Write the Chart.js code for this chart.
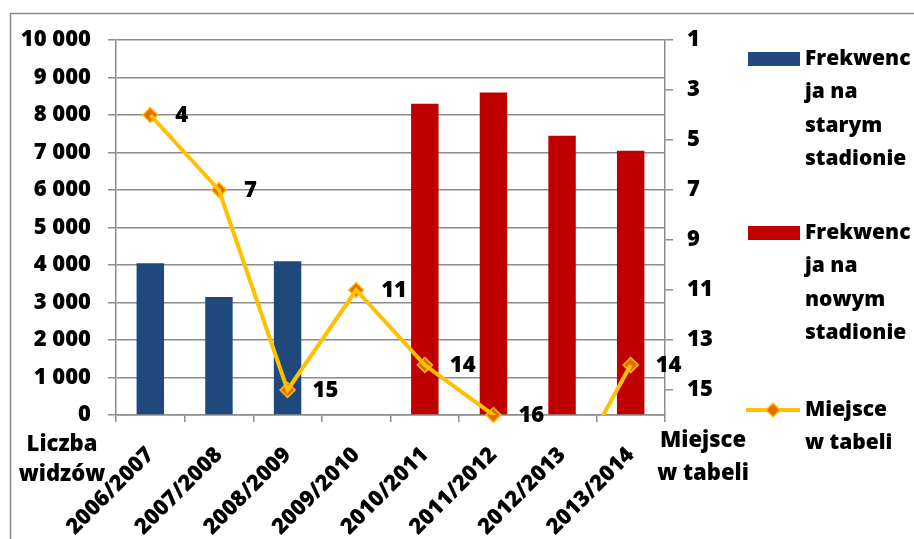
<!DOCTYPE html>
<html>
<head>
<meta charset="utf-8">
<script src="https://cdn.jsdelivr.net/npm/chart.js@4/dist/chart.umd.min.js"></script>
<style>
  html, body { margin: 0; padding: 0; background: #ffffff; }
  #wrap { position: relative; width: 914px; height: 539px; }
</style>
</head>
<body>
<div id="wrap"><canvas id="c" width="914" height="539"></canvas></div>
<script>
// Seasons
const seasons = ['2006/2007', '2007/2008', '2008/2009', '2009/2010',
                 '2010/2011', '2011/2012', '2012/2013', '2013/2014'];
// Average attendance (old stadium / new stadium)
const attendanceOld = [4050, 3150, 4100, null, null, null, null, null];
const attendanceNew = [null, null, null, null, 8300, 8600, 7450, 7050];
// League position
const leaguePlace = [4, 7, 15, 11, 14, 16, 19, 14];
// Right axis ticks
const placeTicks = [1, 3, 5, 7, 9, 11, 13, 15];

const seriesNames = ['Frekwencja na starym stadionie', 'Frekwencja na nowym stadionie', 'Miejsce w tabeli'];
const legendLines = [['Frekwenc', 'ja na', 'starym', 'stadionie'],
                     ['Frekwenc', 'ja na', 'nowym', 'stadionie'],
                     ['Miejsce', 'w tabeli']];
const leftTitle = ['Liczba', 'widzów'];
const rightTitle = ['Miejsce', 'w tabeli'];

const FONT = '"Open Sans", "Noto Sans", sans-serif';
const FSIZE = 22;
const FWEIGHT = '800';
const GRID = '#8c8c8c';
const BLUE = '#1f497d';
const RED = '#c00000';
const GOLD = '#ffc000';
const ORANGE = '#e36c09';

function fmtThousands(v) {
  return String(v).replace(/\B(?=(\d{3})+(?!\d))/g, ' ');
}

// Outer frame, axis titles, point value labels and the side legend
const decorations = {
  id: 'decorations',
  beforeDraw(chart) {
    const ctx = chart.ctx;
    ctx.save();
    ctx.strokeStyle = '#8a8a8a';
    ctx.lineWidth = 1.5;
    ctx.beginPath();
    ctx.moveTo(10.5, 539);
    ctx.lineTo(10.5, 13.5);
    ctx.lineTo(914, 13.5);
    ctx.stroke();
    ctx.restore();
  },
  afterDraw(chart) {
    const ctx = chart.ctx;
    const area = chart.chartArea;
    ctx.save();
    ctx.font = FWEIGHT + ' ' + FSIZE + 'px ' + FONT;
    ctx.fillStyle = '#000';
    ctx.textBaseline = 'middle';

    // axis titles
    ctx.textAlign = 'center';
    leftTitle.forEach((t, i) => ctx.fillText(t, 62, 445 + i * 30));
    rightTitle.forEach((t, i) => ctx.fillText(t, 703, 441 + i * 33));

    // value labels next to the position markers
    const meta = chart.getDatasetMeta(1);
    ctx.textAlign = 'left';
    meta.data.forEach((pt, i) => {
      const v = leaguePlace[i];
      if (v == null || pt.y > area.bottom + 1 || pt.y < area.top - 1) return;
      ctx.fillText(String(v), pt.x + 25, pt.y + 1);
    });

    // legend
    const lx = 748, tx = 805;
    const tops = [59, 233, 410];
    // bar swatches
    [[BLUE, 0], [RED, 1]].forEach(([col, k]) => {
      ctx.fillStyle = col;
      ctx.fillRect(lx, tops[k] - 7, 52, 14);
    });
    // line swatch
    ctx.strokeStyle = GOLD;
    ctx.lineWidth = 4;
    ctx.beginPath();
    ctx.moveTo(lx - 2, tops[2]);
    ctx.lineTo(lx + 52, tops[2]);
    ctx.stroke();
    ctx.fillStyle = ORANGE;
    ctx.strokeStyle = GOLD;
    ctx.lineWidth = 1.5;
    ctx.beginPath();
    const cx = lx + 25, cy = tops[2], r = 7;
    ctx.moveTo(cx, cy - r); ctx.lineTo(cx + r, cy); ctx.lineTo(cx, cy + r); ctx.lineTo(cx - r, cy); ctx.closePath();
    ctx.fill(); ctx.stroke();

    ctx.font = FWEIGHT + ' ' + (FSIZE - 1) + 'px ' + FONT;
    ctx.fillStyle = '#000';
    ctx.textAlign = 'left';
    legendLines.forEach((lines, k) => {
      lines.forEach((t, i) => ctx.fillText(t, tx, tops[k] + i * 33.5));
    });
    ctx.restore();
  }
};

const tickFont = { family: FONT, weight: FWEIGHT, size: FSIZE };

new Chart(document.getElementById('c'), {
  data: {
    labels: seasons,
    datasets: [
      {
        type: 'line', label: seriesNames[2], data: leaguePlace, yAxisID: 'y1',
        borderColor: GOLD, borderWidth: 4, pointRadius: 0, tension: 0,
        spanGaps: false, clip: 0, order: 0
      },
      {
        type: 'line', label: seriesNames[2] + ' ', data: leaguePlace, yAxisID: 'y1',
        showLine: false, clip: false, order: 0,
        pointStyle: 'rectRot',
        pointRadius: ctx => (ctx.raw != null && ctx.raw <= 16 ? 7.5 : 0),
        pointBackgroundColor: ORANGE, pointBorderColor: GOLD, pointBorderWidth: 1.5
      },
      {
        type: 'bar', label: seriesNames[0], data: attendanceOld, yAxisID: 'y',
        backgroundColor: BLUE, grouped: false, barPercentage: 0.4, categoryPercentage: 1, order: 1
      },
      {
        type: 'bar', label: seriesNames[1], data: attendanceNew, yAxisID: 'y',
        backgroundColor: RED, grouped: false, barPercentage: 0.4, categoryPercentage: 1, order: 1
      }
    ]
  },
  options: {
    responsive: false,
    animation: false,
    devicePixelRatio: 1,
    layout: { padding: { left: 0, right: 189, top: 40, bottom: 0 } },
    plugins: { legend: { display: false }, tooltip: { enabled: false } },
    scales: {
      x: {
        type: 'category', offset: true,
        grid: { drawOnChartArea: false, offset: true, tickLength: 7, color: GRID, lineWidth: 1.5 },
        border: { color: GRID, width: 1.5 },
        ticks: { color: '#000', font: tickFont,
                 minRotation: 45, maxRotation: 45, padding: 20, autoSkip: false },
        afterFit: s => { s.height = 124; }
      },
      y: {
        position: 'left', min: 0, max: 10000,
        grid: { color: GRID, lineWidth: 1.5, tickLength: 8 },
        border: { color: GRID, width: 1.5 },
        ticks: { stepSize: 1000, color: '#000', padding: 17, font: tickFont,
                 callback: v => fmtThousands(v) },
        afterFit: s => { s.width = 116; }
      },
      y1: {
        position: 'right', reverse: true, min: 1, max: 16,
        grid: { drawOnChartArea: false, color: GRID, lineWidth: 1.5, tickLength: 8 },
        border: { color: GRID, width: 1.5 },
        ticks: { color: '#000', padding: 14, font: tickFont },
        afterBuildTicks: s => { s.ticks = placeTicks.map(v => ({ value: v })); },
        afterFit: s => { s.width = 60; }
      }
    }
  },
  plugins: [decorations]
});
</script>
</body>
</html>
